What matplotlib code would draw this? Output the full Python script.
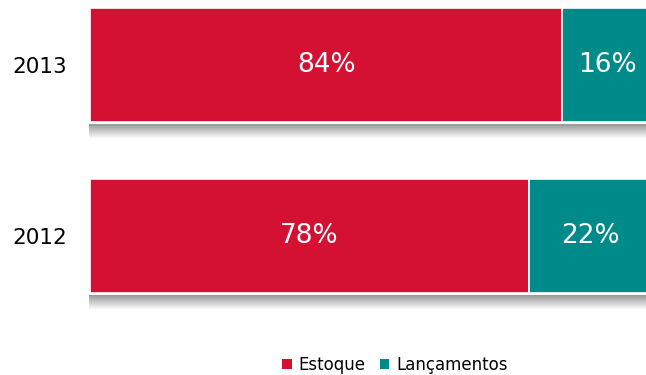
import matplotlib
matplotlib.use("Agg")
import matplotlib.pyplot as plt
import numpy as np
from matplotlib.patches import Patch

years = ["2012", "2013"]
estoque = [78, 84]
lancamentos = [22, 16]
series_names = ["Estoque", "Lançamentos"]
colors = ["#D41132", "#008B8A"]

W, H = 646, 375
fig = plt.figure(figsize=(W / 100, H / 100), dpi=100)
ax = fig.add_axes([90 / W, 45 / H, 1 - 90 / W, 1 - 45 / H])

ypos = np.arange(len(years))
bh = 0.665
px = 1 / 171.0

# shadows below each bar
for y in ypos:
    n = 15
    for i in range(n):
        top = y - bh / 2 - 2 * px - i * px
        g = 0.60 + 0.40 * (i / (n - 1))
        ax.add_patch(plt.Rectangle((-0.2, top - px), 101, px,
                                   facecolor=(g, g, g), edgecolor="none", zorder=1,
                                   clip_on=False))

ax.barh(ypos, estoque, height=bh, color=colors[0], edgecolor="white",
        linewidth=1.2, zorder=3)
ax.barh(ypos, lancamentos, left=estoque, height=bh, color=colors[1],
        edgecolor="white", linewidth=1.2, zorder=3)

for y, e, l in zip(ypos, estoque, lancamentos):
    ax.text(e / 2, y, f"{e}%", ha="center", va="center", color="white",
            fontsize=19, zorder=4)
    ax.text(e + l / 2, y, f"{l}%", ha="center", va="center", color="white",
            fontsize=19, zorder=4)

ax.set_xlim(0, 98.9)
ax.set_ylim(-0.55, 1.38)
ax.set_yticks(ypos)
ax.set_yticklabels(years, fontsize=15.5)
ax.tick_params(axis="y", length=0, pad=16.5)
ax.set_xticks([])
for s in ax.spines.values():
    s.set_visible(False)

handles = [Patch(facecolor=c, edgecolor="none") for c in colors]
fig.legend(handles, series_names, loc="center", bbox_to_anchor=(395 / W, 1 - 365 / H),
           ncol=2, frameon=False, fontsize=12, handlelength=0.55, handleheight=0.55,
           handletextpad=0.4, columnspacing=0.9)

fig.savefig("out.png", dpi=100)
